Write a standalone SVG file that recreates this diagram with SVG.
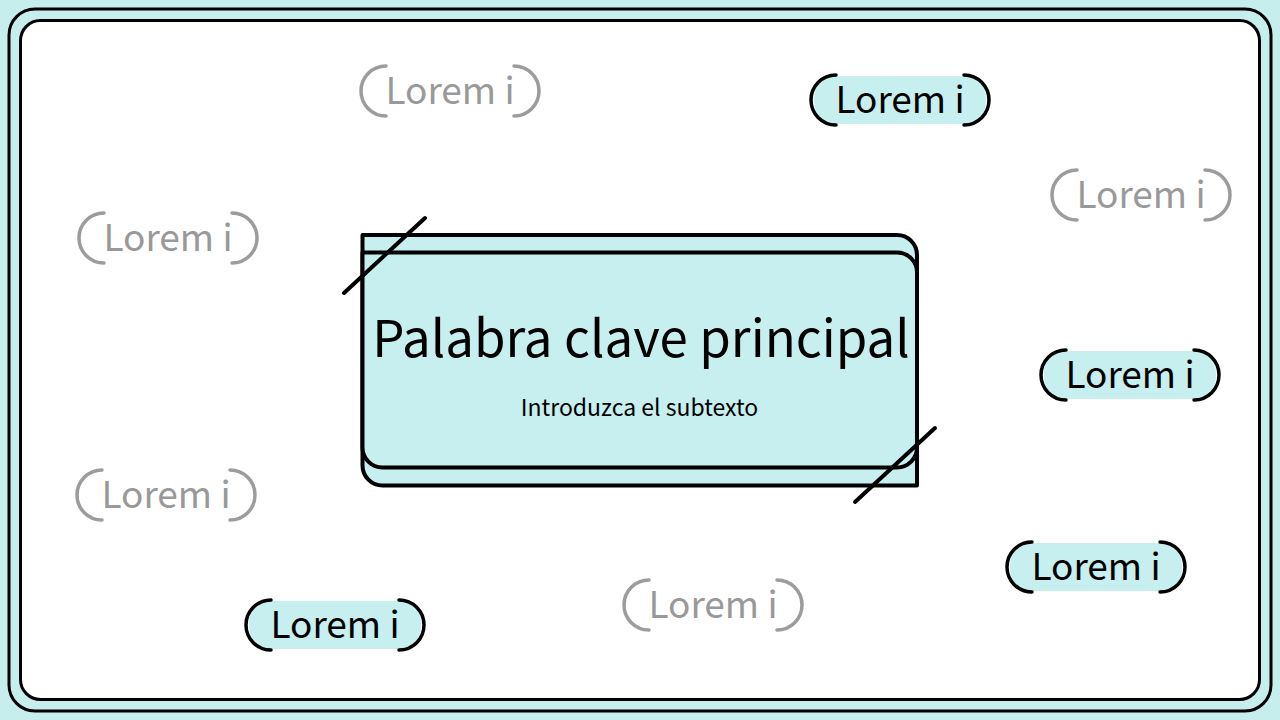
<svg xmlns="http://www.w3.org/2000/svg" width="1280" height="720" viewBox="0 0 1280 720">
<defs>
<style>
.frame{fill:none;stroke:#000;stroke-width:3}
.inner{fill:#fff;stroke:#000;stroke-width:3}
.box{fill:#c7efef;stroke:#000;stroke-width:4;stroke-linejoin:round}
.slash{stroke:#000;stroke-width:4;stroke-linecap:round}
.title{font-family:"Noto Sans CJK SC","Noto Sans",sans-serif;font-weight:400;font-size:51px;fill:#000;text-anchor:middle}
.sub{font-family:"Noto Sans CJK SC","Noto Sans",sans-serif;font-weight:400;font-size:23px;fill:#000;text-anchor:middle}
.pt{font-family:"Noto Sans CJK SC","Noto Sans",sans-serif;font-weight:400;font-size:37px;text-anchor:middle}
.g .pt{fill:#999}
.g .br{fill:none;stroke:#9c9c9c;stroke-width:3.5;stroke-linecap:round}
.c .pt{fill:#000}
.c .br{fill:none;stroke:#000;stroke-width:3.5;stroke-linecap:round}
.c .bg{fill:#c7efef}
</style>
</defs>
<rect x="0" y="0" width="1280" height="720" fill="#c6eeed"/>
<rect class="frame" x="9" y="9" width="1262" height="702" rx="26"/>
<rect class="inner" x="20.5" y="20.5" width="1239" height="679" rx="20"/>

<g id="center">
<path class="box" d="M 362.5 235 H 897 A 20 20 0 0 1 917 255 V 485.5 H 382.5 A 20 20 0 0 1 362.5 465.5 Z"/>
<path class="box" d="M 362.5 252.5 H 897 A 20 20 0 0 1 917 272.5 V 447.5 A 20 20 0 0 1 897 467.5 H 382.5 A 20 20 0 0 1 362.5 447.5 Z"/>
<line class="slash" x1="344" y1="293" x2="425" y2="218"/>
<line class="slash" x1="855" y1="502" x2="935" y2="428"/>
<text class="title" x="641" y="357">Palabra clave principal</text>
<text class="sub" x="639.5" y="416">Introduzca el subtexto</text>
</g>

<g id="pill1" class="g" transform="translate(450,91)">
<path class="br" d="M -64 -25 A 25 25 0 0 0 -64 25"/><path class="br" d="M 64 -25 A 25 25 0 0 1 64 25"/>
<text class="pt" x="0" y="13">Lorem i</text>
</g>
<g id="pill2" class="c" transform="translate(900,100)">
<rect class="bg" x="-86" y="-24" width="172" height="48" rx="22"/>
<path class="br" d="M -64 -25 A 25 25 0 0 0 -64 25"/><path class="br" d="M 64 -25 A 25 25 0 0 1 64 25"/>
<text class="pt" x="0" y="13">Lorem i</text>
</g>
<g id="pill3" class="g" transform="translate(1141,195)">
<path class="br" d="M -64 -25 A 25 25 0 0 0 -64 25"/><path class="br" d="M 64 -25 A 25 25 0 0 1 64 25"/>
<text class="pt" x="0" y="13">Lorem i</text>
</g>
<g id="pill4" class="g" transform="translate(168,238)">
<path class="br" d="M -64 -25 A 25 25 0 0 0 -64 25"/><path class="br" d="M 64 -25 A 25 25 0 0 1 64 25"/>
<text class="pt" x="0" y="13">Lorem i</text>
</g>
<g id="pill5" class="c" transform="translate(1130,375)">
<rect class="bg" x="-86" y="-24" width="172" height="48" rx="22"/>
<path class="br" d="M -64 -25 A 25 25 0 0 0 -64 25"/><path class="br" d="M 64 -25 A 25 25 0 0 1 64 25"/>
<text class="pt" x="0" y="13">Lorem i</text>
</g>
<g id="pill6" class="g" transform="translate(166,495)">
<path class="br" d="M -64 -25 A 25 25 0 0 0 -64 25"/><path class="br" d="M 64 -25 A 25 25 0 0 1 64 25"/>
<text class="pt" x="0" y="13">Lorem i</text>
</g>
<g id="pill7" class="c" transform="translate(1096,567)">
<rect class="bg" x="-86" y="-24" width="172" height="48" rx="22"/>
<path class="br" d="M -64 -25 A 25 25 0 0 0 -64 25"/><path class="br" d="M 64 -25 A 25 25 0 0 1 64 25"/>
<text class="pt" x="0" y="13">Lorem i</text>
</g>
<g id="pill8" class="g" transform="translate(713,605)">
<path class="br" d="M -64 -25 A 25 25 0 0 0 -64 25"/><path class="br" d="M 64 -25 A 25 25 0 0 1 64 25"/>
<text class="pt" x="0" y="13">Lorem i</text>
</g>
<g id="pill9" class="c" transform="translate(335,625)">
<rect class="bg" x="-86" y="-24" width="172" height="48" rx="22"/>
<path class="br" d="M -64 -25 A 25 25 0 0 0 -64 25"/><path class="br" d="M 64 -25 A 25 25 0 0 1 64 25"/>
<text class="pt" x="0" y="13">Lorem i</text>
</g>
<g id="connectors"/>
</svg>
